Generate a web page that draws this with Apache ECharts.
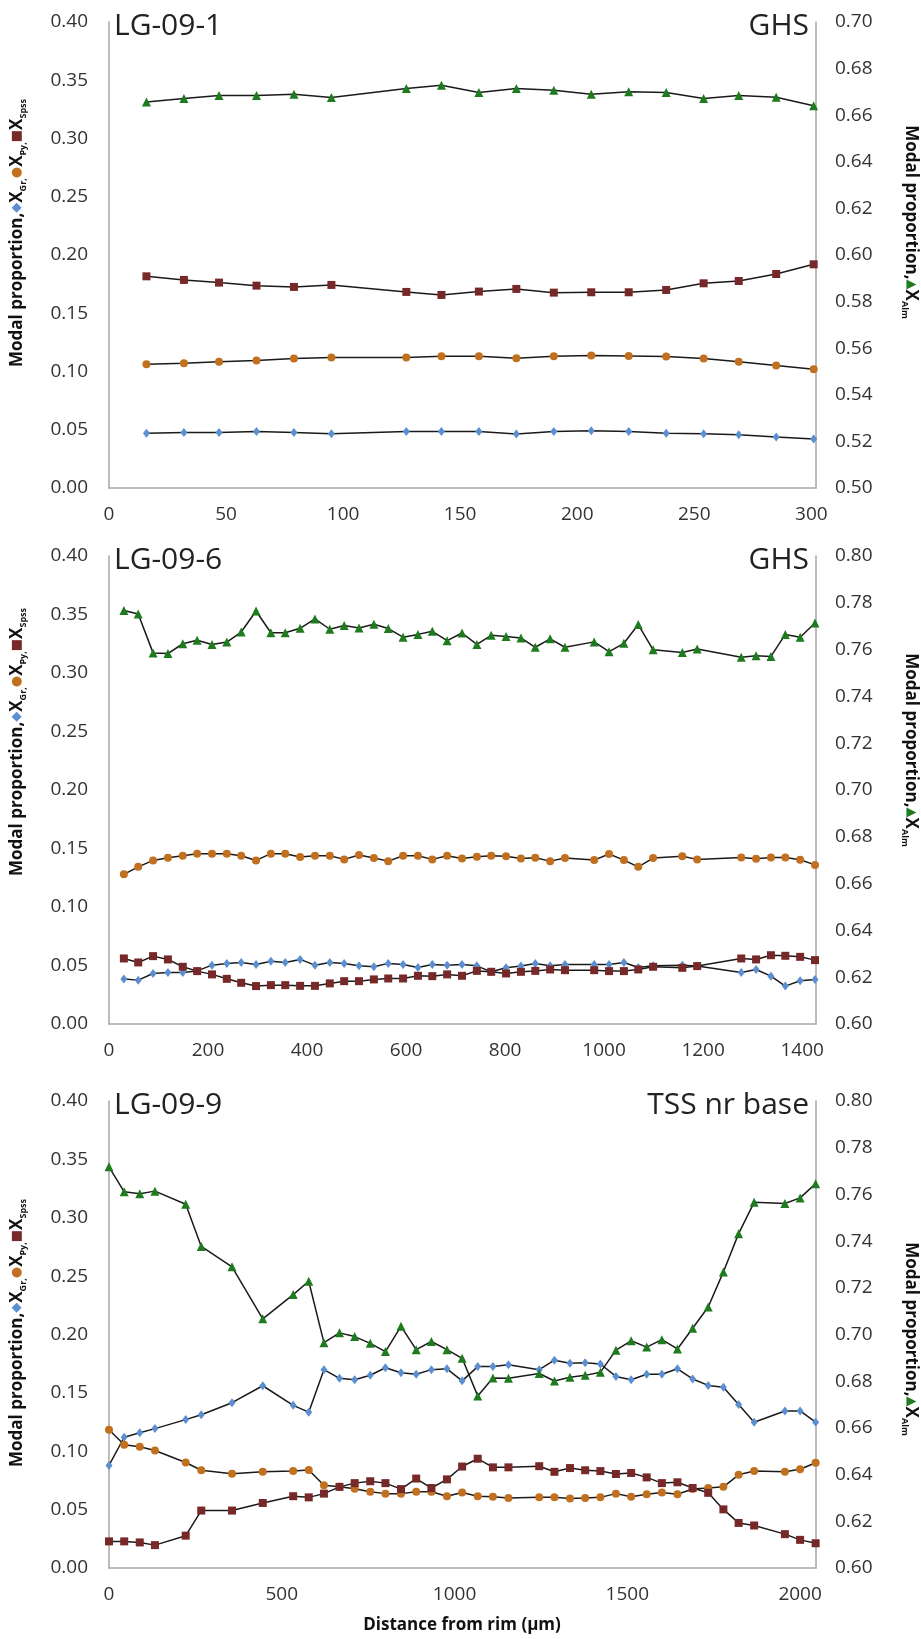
<!DOCTYPE html>
<html>
<head>
<meta charset="utf-8">
<script src="https://cdn.jsdelivr.net/npm/echarts@6/dist/echarts.min.js"></script>
<style>
  html, body { margin: 0; padding: 0; background: #fff; }
  #main { width: 921px; height: 1639px; }
</style>
</head>
<body>
<div id="main"></div>
<script>
// LG-09-1 (GHS)
var x1 = [16, 32, 47, 63, 79, 95, 127, 142, 158, 174, 190, 206, 222, 238, 254, 269, 285, 301];
var gr1 = [0.0469, 0.0477, 0.0477, 0.0486, 0.0477, 0.0466, 0.0486, 0.0486, 0.0486, 0.0463, 0.0486, 0.0491, 0.0486, 0.0471, 0.0466, 0.0457, 0.0437, 0.0420];
var py1 = [0.1063, 0.1071, 0.1083, 0.1094, 0.1111, 0.1120, 0.1120, 0.1131, 0.1131, 0.1114, 0.1131, 0.1137, 0.1134, 0.1129, 0.1111, 0.1083, 0.1051, 0.1020];
var sps1 = [0.1817, 0.1786, 0.1763, 0.1737, 0.1726, 0.1743, 0.1683, 0.1657, 0.1686, 0.1709, 0.1677, 0.1680, 0.1680, 0.1700, 0.1757, 0.1777, 0.1837, 0.1920];
var alm1 = [0.6657, 0.6672, 0.6685, 0.6685, 0.6690, 0.6676, 0.6715, 0.6729, 0.6697, 0.6715, 0.6707, 0.6690, 0.6701, 0.6697, 0.6672, 0.6685, 0.6677, 0.6641];

// LG-09-6 (GHS)
var x2 = [30, 59, 89, 119, 149, 178, 208, 238, 267, 297, 327, 356, 386, 416, 446, 475, 505, 535, 564, 594, 624, 653, 683,
          713, 743, 772, 802, 832, 861, 891, 921, 980, 1010, 1040, 1069, 1099, 1158, 1188, 1277, 1307, 1337, 1366, 1396, 1426];
var gr2 = [0.0384, 0.0375, 0.0432, 0.0441, 0.0441, 0.0454, 0.0503, 0.0518, 0.0526, 0.0509, 0.0537, 0.0526, 0.0552, 0.0503, 0.0526, 0.0518, 0.0497, 0.0489, 0.0518, 0.0509, 0.0483, 0.0509, 0.0503,
           0.0509, 0.0497, 0.0446, 0.0480, 0.0495, 0.0518, 0.0497, 0.0509, 0.0509, 0.0509, 0.0526, 0.0483, 0.0497, 0.0503, 0.0495, 0.0441, 0.0466, 0.0409, 0.0324, 0.0369, 0.0381];
var py2 = [0.1279, 0.1343, 0.1398, 0.1421, 0.1438, 0.1456, 0.1456, 0.1456, 0.1438, 0.1398, 0.1456, 0.1456, 0.1427, 0.1438, 0.1438, 0.1407, 0.1444, 0.1418, 0.1392, 0.1438, 0.1438, 0.1407, 0.1438,
           0.1415, 0.1430, 0.1438, 0.1433, 0.1415, 0.1421, 0.1392, 0.1418, 0.1401, 0.1453, 0.1401, 0.1343, 0.1418, 0.1433, 0.1407, 0.1424, 0.1412, 0.1424, 0.1424, 0.1404, 0.1360];
var sps2 = [0.0560, 0.0526, 0.0580, 0.0552, 0.0489, 0.0452, 0.0424, 0.0386, 0.0352, 0.0324, 0.0332, 0.0332, 0.0326, 0.0326, 0.0347, 0.0366, 0.0366, 0.0381, 0.0389, 0.0389, 0.0412, 0.0409, 0.0424,
            0.0412, 0.0454, 0.0446, 0.0432, 0.0446, 0.0454, 0.0466, 0.0460, 0.0460, 0.0452, 0.0452, 0.0466, 0.0489, 0.0480, 0.0495, 0.0560, 0.0552, 0.0588, 0.0583, 0.0574, 0.0546];
var alm2 = [0.7767, 0.7752, 0.7586, 0.7583, 0.7625, 0.7640, 0.7622, 0.7632, 0.7675, 0.7765, 0.7672, 0.7672, 0.7691, 0.7731, 0.7687, 0.7703, 0.7692, 0.7708, 0.7690, 0.7653, 0.7665, 0.7678, 0.7638,
            0.7671, 0.7622, 0.7661, 0.7656, 0.7650, 0.7610, 0.7646, 0.7610, 0.7633, 0.7591, 0.7627, 0.7707, 0.7599, 0.7588, 0.7603, 0.7567, 0.7574, 0.7571, 0.7665, 0.7653, 0.7714];

// LG-09-9 (TSS nr base)
var x3 = [0, 44, 89, 133, 222, 267, 356, 445, 533, 578, 622, 667, 711, 756, 800, 845, 889, 933, 978,
          1022, 1067, 1111, 1156, 1245, 1289, 1334, 1378, 1422, 1467, 1511, 1556, 1600, 1645, 1689, 1734, 1778, 1822, 1867, 1956, 2000, 2045];
var gr3 = [0.0879, 0.1120, 0.1158, 0.1194, 0.1271, 0.1313, 0.1416, 0.1561, 0.1393, 0.1335, 0.1699, 0.1625, 0.1612, 0.1651, 0.1715, 0.1673, 0.1660, 0.1699, 0.1706,
           0.1603, 0.1725, 0.1725, 0.1741, 0.1699, 0.1780, 0.1754, 0.1757, 0.1747, 0.1641, 0.1612, 0.1660, 0.1660, 0.1706, 0.1619, 0.1564, 0.1548, 0.1400, 0.1249, 0.1345, 0.1345, 0.1249];
var py3 = [0.1184, 0.1056, 0.1039, 0.1007, 0.0904, 0.0837, 0.0808, 0.0824, 0.0830, 0.0840, 0.0708, 0.0695, 0.0679, 0.0653, 0.0637, 0.0637, 0.0653, 0.0653, 0.0615,
           0.0647, 0.0615, 0.0611, 0.0599, 0.0605, 0.0605, 0.0595, 0.0599, 0.0605, 0.0637, 0.0611, 0.0631, 0.0647, 0.0631, 0.0676, 0.0685, 0.0695, 0.0798, 0.0830, 0.0824, 0.0846, 0.0901];
var sps3 = [0.0228, 0.0228, 0.0219, 0.0196, 0.0277, 0.0492, 0.0492, 0.0557, 0.0615, 0.0605, 0.0637, 0.0695, 0.0727, 0.0743, 0.0727, 0.0676, 0.0766, 0.0685, 0.0759,
            0.0869, 0.0936, 0.0862, 0.0862, 0.0872, 0.0824, 0.0856, 0.0837, 0.0830, 0.0805, 0.0814, 0.0776, 0.0727, 0.0734, 0.0685, 0.0644, 0.0502, 0.0386, 0.0364, 0.0290, 0.0241, 0.0212];
var alm3 = [0.7718, 0.7611, 0.7603, 0.7614, 0.7558, 0.7377, 0.7290, 0.7067, 0.7171, 0.7228, 0.6965, 0.7007, 0.6991, 0.6962, 0.6927, 0.7035, 0.6935, 0.6970, 0.6935,
            0.6898, 0.6737, 0.6814, 0.6813, 0.6833, 0.6801, 0.6817, 0.6825, 0.6838, 0.6933, 0.6973, 0.6946, 0.6978, 0.6938, 0.7027, 0.7118, 0.7268, 0.7432, 0.7566, 0.7561, 0.7585, 0.7646];

var panels = [
  {x: x1, gr: gr1, py: py1, sps: sps1, alm: alm1, xMax: 302, xStep: 50, rMin: 0.5, rMax: 0.7, top: 22, height: 466,
   name: 'LG-09-1', tag: 'GHS', leftMid: 233, rightMid: 222},
  {x: x2, gr: gr2, py: py2, sps: sps2, alm: alm2, xMax: 1428, xStep: 200, rMin: 0.6, rMax: 0.8, top: 556, height: 468,
   name: 'LG-09-6', tag: 'GHS', leftMid: 742, rightMid: 750},
  {x: x3, gr: gr3, py: py3, sps: sps3, alm: alm3, xMax: 2046, xStep: 500, rMin: 0.6, rMax: 0.8, top: 1101, height: 467,
   name: 'LG-09-9', tag: 'TSS nr base', leftMid: 1333, rightMid: 1339}
];

var FONT = '"Open Sans", "DejaVu Sans", sans-serif';
var axisGrey = '#a6a6a6';
var textCol = '#333333';
var colGr = '#5b8fd0', colPy = '#c0701e', colSps = '#772828', colAlm = '#1e7b1e';

function zip(xs, ys) {
  var out = [];
  for (var i = 0; i < xs.length; i++) out.push([xs[i], ys[i]]);
  return out;
}

var grids = [], xAxes = [], yAxes = [], series = [], graphics = [];

var titleRich = {
  b: {fontFamily: FONT, fontWeight: 'bold', fontSize: 17, lineHeight: 22, fill: '#111'},
  s: {fontFamily: FONT, fontWeight: 'bold', fontSize: 9, lineHeight: 10, verticalAlign: 'bottom', fill: '#111'},
  gr: {fontFamily: 'DejaVu Sans', fontSize: 13, lineHeight: 22, fill: colGr},
  py: {fontFamily: 'DejaVu Sans', fontSize: 13, lineHeight: 22, fill: colPy},
  sp: {fontFamily: 'DejaVu Sans', fontSize: 13, lineHeight: 22, fill: colSps},
  al: {fontFamily: 'DejaVu Sans', fontSize: 13, lineHeight: 22, fill: colAlm}
};

panels.forEach(function (p, i) {
  grids.push({left: 109, right: 105, top: p.top, height: p.height});
  xAxes.push({
    type: 'value', gridIndex: i, min: 0, max: p.xMax, interval: p.xStep,
    axisLine: {onZero: false, lineStyle: {color: axisGrey, width: 1.5}},
    axisTick: {show: false}, splitLine: {show: false},
    axisLabel: {
      margin: 17, fontSize: 19, fontFamily: FONT, color: textCol,
      formatter: function (v) { return v % p.xStep === 0 ? String(v) : ''; }
    }
  });
  yAxes.push({
    type: 'value', gridIndex: i, position: 'left', min: 0, max: 0.4, interval: 0.05,
    axisLine: {show: true, lineStyle: {color: axisGrey, width: 1.5}},
    axisTick: {show: false}, splitLine: {show: false},
    axisLabel: {margin: 21, fontSize: 19, fontFamily: FONT, color: textCol,
      formatter: function (v) { return v.toFixed(2); }}
  });
  yAxes.push({
    type: 'value', gridIndex: i, position: 'right', min: p.rMin, max: p.rMax, interval: 0.02,
    axisLine: {show: true, lineStyle: {color: axisGrey, width: 1.5}},
    axisTick: {show: false}, splitLine: {show: false},
    axisLabel: {margin: 19, fontSize: 19, fontFamily: FONT, color: textCol,
      formatter: function (v) { return v.toFixed(2); }}
  });

  var base = {
    type: 'line', xAxisIndex: i, showSymbol: true, animation: false,
    lineStyle: {color: '#1a1a1a', width: 1.5}
  };
  series.push(Object.assign({}, base, {name: 'Gr', yAxisIndex: 2 * i, data: zip(p.x, p.gr),
    symbol: 'diamond', symbolSize: [7, 9], itemStyle: {color: colGr}}));
  series.push(Object.assign({}, base, {name: 'Py', yAxisIndex: 2 * i, data: zip(p.x, p.py),
    symbol: 'circle', symbolSize: 8, itemStyle: {color: colPy}}));
  series.push(Object.assign({}, base, {name: 'Sps', yAxisIndex: 2 * i, data: zip(p.x, p.sps),
    symbol: 'rect', symbolSize: 8, itemStyle: {color: colSps}}));
  series.push(Object.assign({}, base, {name: 'Alm', yAxisIndex: 2 * i + 1, data: zip(p.x, p.alm),
    symbol: 'triangle', symbolSize: 9, itemStyle: {color: colAlm}}));

  // panel labels
  graphics.push({type: 'text', x: 114, y: p.top + 4, style: {
    text: p.name, fill: '#222', font: '30px ' + FONT, textAlign: 'left', textVerticalAlign: 'middle'}});
  graphics.push({type: 'text', x: 809, y: p.top + 4, style: {
    text: p.tag, fill: '#222', font: '30px ' + FONT, textAlign: 'right', textVerticalAlign: 'middle'}});

  // axis titles
  graphics.push({type: 'text', x: 17, y: p.leftMid, rotation: Math.PI / 2, style: {
    text: '{b|Modal proportion,}{gr|◆}{b|X}{s|Gr,}{py|●}{b|X}{s|Py,}{sp|■}{b|X}{s|Spss}',
    rich: titleRich, textAlign: 'center', textVerticalAlign: 'middle'}});
  graphics.push({type: 'text', x: 911, y: p.rightMid, rotation: -Math.PI / 2, style: {
    text: '{b|Modal proportion,}{al|▲}{b|X}{s|Alm}',
    rich: titleRich, textAlign: 'center', textVerticalAlign: 'middle'}});
});

graphics.push({type: 'text', x: 462, y: 1625, style: {
  text: 'Distance from rim (µm)', fill: '#111', font: 'bold 17px ' + FONT,
  textAlign: 'center', textVerticalAlign: 'middle'}});

var chart = echarts.init(document.getElementById('main'), null, {renderer: 'canvas'});
chart.setOption({
  backgroundColor: '#ffffff',
  animation: false,
  grid: grids,
  xAxis: xAxes,
  yAxis: yAxes,
  series: series,
  graphic: graphics
});
window.onresize = chart.resize;
</script>
</body>
</html>
